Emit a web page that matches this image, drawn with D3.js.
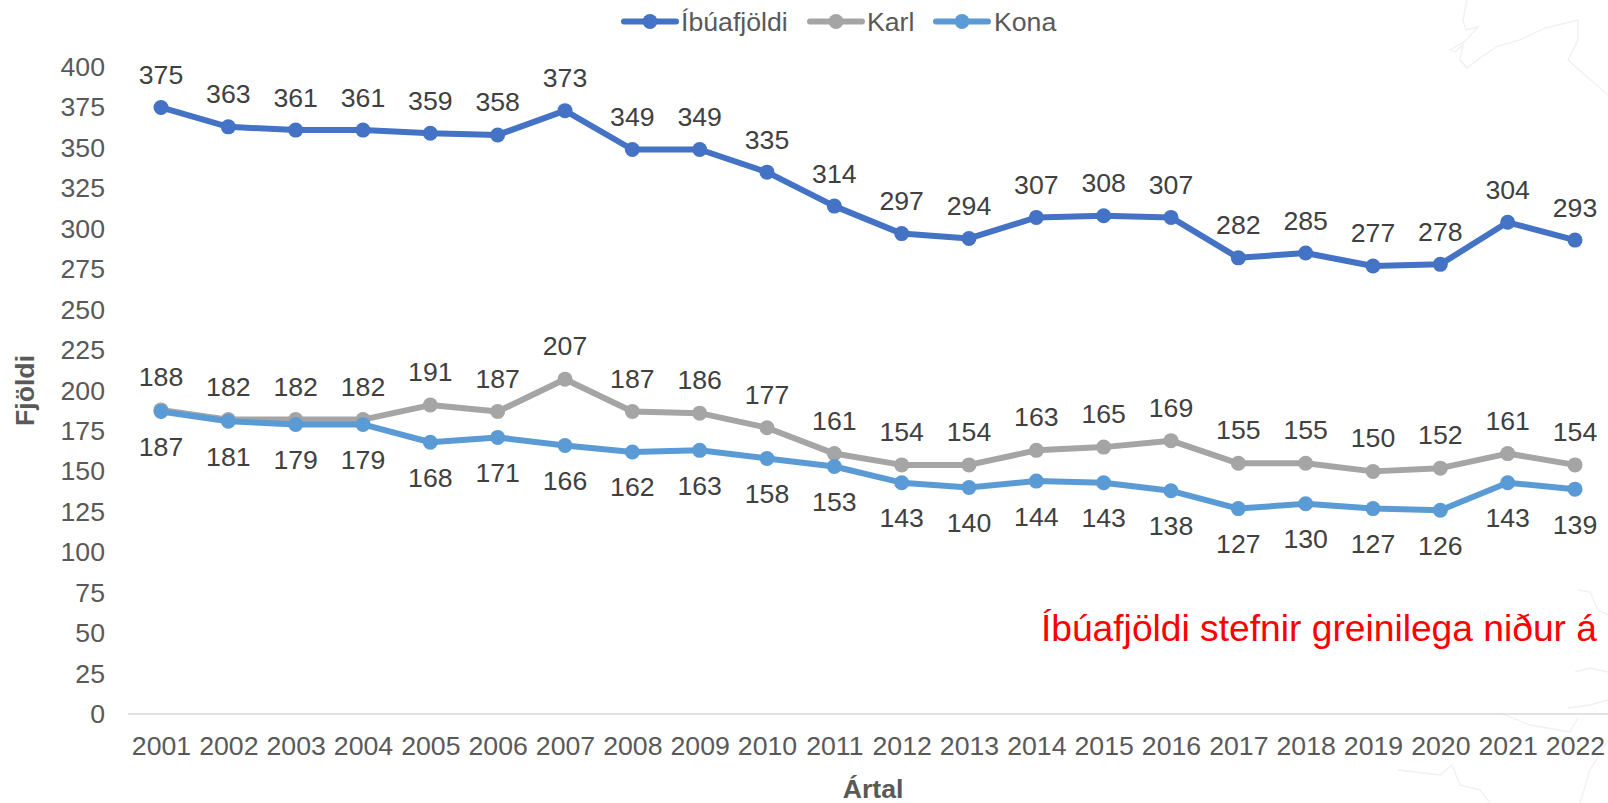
<!DOCTYPE html>
<html><head><meta charset="utf-8">
<script src="https://cdn.jsdelivr.net/npm/d3@7"></script>
<style>html,body{margin:0;background:#fff}svg{display:block}text{font-family:"Liberation Sans",Arial,sans-serif}</style>
</head><body><div id="c"></div>
<script>
const years=[2001,2002,2003,2004,2005,2006,2007,2008,2009,2010,2011,2012,2013,2014,2015,2016,2017,2018,2019,2020,2021,2022];
const total=[375,363,361,361,359,358,373,349,349,335,314,297,294,307,308,307,282,285,277,278,304,293];
const karl=[188,182,182,182,191,187,207,187,186,177,161,154,154,163,165,169,155,155,150,152,161,154];
const kona=[187,181,179,179,168,171,166,162,163,158,153,143,140,144,143,138,127,130,127,126,143,139];
const yTicks=d3.range(0,401,25);
const names=["Íbúafjöldi","Karl","Kona"];
const colors=["#4472c4","#a5a5a5","#5b9bd5"];
const note="Íbúafjöldi stefnir greinilega niður á";

const W=1608,H=803;
const svg=d3.select("#c").append("svg").attr("width",W).attr("height",H);
const x=d3.scalePoint().domain(years).range([161,1575]);
const y=d3.scaleLinear().domain([0,400]).range([714,67]);

// faint background map outline
const bg=svg.append("g").attr("fill","none").attr("stroke","#f0f0f0").attr("stroke-width",1.3);
["M1467,0L1463,20L1466,30L1478,27L1464,42L1450,50L1455,52L1463,45L1460,60L1467,68L1480,58L1498,46L1520,40L1545,28L1578,20L1578,40L1568,60L1608,95",
 "M1578,590L1590,592L1598,610L1608,615","M1575,672L1590,668L1608,672","M1568,708L1590,705L1608,700","M1500,713L1530,725L1570,732L1578,718","M1398,770L1440,775L1452,765L1460,785L1480,790L1490,803","M1608,740L1590,770L1580,803"]
 .forEach(d=>bg.append("path").attr("d",d));

// axes
const axisY=d3.axisLeft(y).tickValues(yTicks).tickSize(0).tickPadding(0);
const gy=svg.append("g").attr("transform","translate(105,0)").call(axisY);
gy.select(".domain").remove();
gy.selectAll("text").attr("font-size",26.67).attr("fill","#595959").attr("font-family","Liberation Sans");
const axisX=d3.axisBottom(x).tickSize(0).tickPadding(22.5).tickFormat(d3.format("d"));
const gx=svg.append("g").attr("transform",`translate(0,${y(0)})`).call(axisX);
gx.select(".domain").remove();
gx.selectAll("text").attr("font-size",26.67).attr("fill","#595959").attr("font-family","Liberation Sans");
svg.append("line").attr("x1",128).attr("x2",1608).attr("y1",y(0)).attr("y2",y(0)).attr("stroke","#d9d9d9").attr("stroke-width",1.5);

// series
const line=d3.line().x((d,i)=>x(years[i])).y(d=>y(d));
[total,karl,kona].forEach((s,k)=>{
  const g=svg.append("g");
  g.append("path").attr("d",line(s)).attr("fill","none").attr("stroke",colors[k]).attr("stroke-width",6).attr("stroke-linecap","round").attr("stroke-linejoin","round");
  g.selectAll("circle").data(s).join("circle").attr("cx",(d,i)=>x(years[i])).attr("cy",d=>y(d)).attr("r",7.5).attr("fill",colors[k]);
});
// labels
const lab=(s,dy)=>svg.append("g").selectAll("text").data(s).join("text")
  .attr("x",(d,i)=>x(years[i])).attr("y",d=>y(d)+dy).attr("text-anchor","middle")
  .attr("font-size",26.67).attr("fill","#404040").text(d=>d);
lab(total,-23.5);lab(karl,-24);lab(kona,44.5);

// titles
svg.append("text").attr("transform",`translate(34,${y(200)}) rotate(-90)`).attr("text-anchor","middle").attr("font-size",26.67).attr("font-weight","bold").attr("fill","#595959").text("Fjöldi");
svg.append("text").attr("x",873).attr("y",798).attr("text-anchor","middle").attr("font-size",26.67).attr("font-weight","bold").attr("fill","#595959").text("Ártal");
svg.append("text").attr("x",1597).attr("y",641).attr("text-anchor","end").attr("font-size",37.2).attr("fill","#ff0000").text(note);

// legend
const legX=[624,810,936],legT=[681,867,994];
names.forEach((n,i)=>{
  const g=svg.append("g");
  g.append("line").attr("x1",legX[i]).attr("x2",legX[i]+52).attr("y1",21.5).attr("y2",21.5).attr("stroke",colors[i]).attr("stroke-width",6).attr("stroke-linecap","round");
  g.append("circle").attr("cx",legX[i]+26).attr("cy",21.5).attr("r",7.5).attr("fill",colors[i]);
  g.append("text").attr("x",legT[i]).attr("y",31).attr("font-size",26.67).attr("fill","#595959").text(n);
});
</script></body></html>
